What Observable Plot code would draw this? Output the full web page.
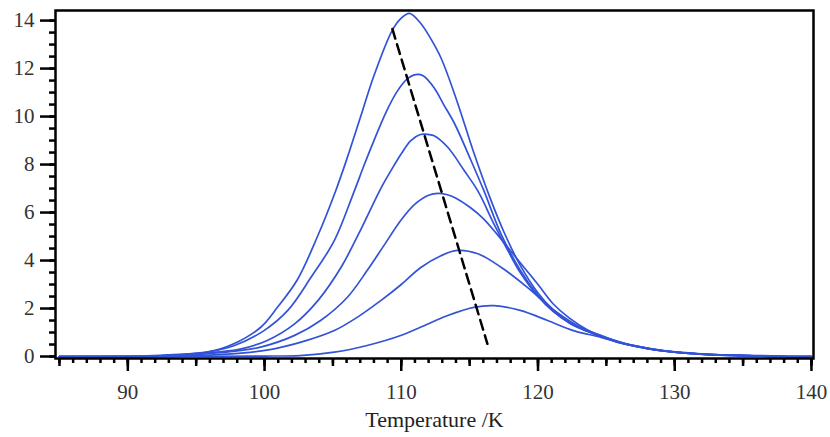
<!DOCTYPE html>
<html>
<head>
<meta charset="utf-8">
<script src="https://cdn.jsdelivr.net/npm/d3@7"></script>
<script src="https://cdn.jsdelivr.net/npm/@observablehq/plot@0.6"></script>
<style>
  html, body { margin: 0; padding: 0; background: #fff; }
</style>
</head>
<body>
<div id="chart"></div>
<script>
// Glow curves: [temperature K, intensity]
const curve1 = [[85,0],[91,0.02],[93,0.07],[95.8,0.18],[97.75,0.53],[99.72,1.22],[100.94,2.05],[102.4,3.2],[103.87,5.0],[105.2,6.9],[106.06,8.3],[107.03,10.0],[108.0,11.7],[109.35,13.6],[110.0,14.1],[110.6,14.3],[111.4,13.9],[112.1,13.3],[112.9,12.45],[114.1,10.6],[115.3,8.5],[116.5,6.6],[117.5,5.2],[118.7,3.8],[120,2.65],[121.1,1.95],[122.3,1.42],[123.6,1.08],[124.6,0.85],[125.8,0.6],[127,0.46],[128.3,0.3],[129.45,0.21],[131,0.13],[132.8,0.08],[135,0.05],[137.7,0.02],[138.5,0],[140,0]];
const curve2 = [[85,0],[92,0.02],[94,0.08],[96,0.2],[97.8,0.46],[99.96,1.08],[101.7,1.92],[103.4,3.3],[105.1,4.83],[106.5,6.8],[107.3,8.0],[108.0,9.0],[108.9,10.2],[109.7,11.05],[110.4,11.55],[111.05,11.75],[111.6,11.7],[112.4,11.2],[113.1,10.5],[113.9,9.7],[115.1,8.17],[116.05,6.9],[117.3,5.1],[118.7,3.6],[120,2.55],[121.1,1.9],[122.3,1.4],[123.6,1.05],[125,0.75],[126.5,0.5],[128,0.33],[130,0.18],[132.5,0.08],[135,0.04],[137.5,0.02],[138.5,0],[140,0]];
const curve3 = [[85,0],[92.5,0.02],[94.5,0.08],[96.5,0.18],[98.3,0.32],[100.2,0.67],[102.2,1.36],[103.9,2.33],[105.6,3.72],[107.0,5.25],[108.5,7.0],[109.3,7.8],[110.0,8.45],[110.7,9.0],[111.4,9.25],[112.0,9.25],[112.4,9.2],[113.4,8.72],[114.6,7.75],[115.6,6.9],[116.8,5.5],[118.0,4.2],[118.7,3.5],[120,2.5],[121.1,1.88],[122.3,1.4],[123.6,1.05],[125,0.75],[126.5,0.5],[128,0.33],[130,0.18],[132.5,0.08],[135,0.04],[138,0],[140,0]];
const curve4 = [[85,0],[93,0.02],[95,0.08],[97.5,0.2],[99.7,0.39],[102.2,0.88],[104.1,1.5],[106.06,2.47],[107.5,3.58],[108.7,4.6],[110,5.7],[111,6.35],[112,6.72],[112.7,6.8],[113.3,6.75],[114,6.6],[115.07,6.2],[116,5.75],[117,5.1],[118,4.4],[119,3.7],[120,3.0],[121.1,2.2],[122.3,1.6],[123.6,1.12],[125,0.78],[126.5,0.52],[128,0.34],[130,0.18],[132.5,0.08],[135,0.04],[138,0],[140,0]];
const curve5 = [[85,0],[94,0.02],[96,0.06],[98.5,0.15],[100.7,0.32],[103.1,0.67],[105.1,1.08],[106.8,1.64],[108.5,2.33],[110,3.0],[111.4,3.7],[112.9,4.2],[114.1,4.42],[115.6,4.28],[117.3,3.72],[119.2,2.89],[120,2.5],[121.2,1.92],[123.1,1.22],[124.6,0.88],[126,0.6],[127.5,0.4],[129.5,0.22],[132,0.1],[135,0.04],[138,0],[140,0]];
const curve6 = [[85,0],[96,0.01],[100,0.02],[102.6,0.04],[105.1,0.18],[107.5,0.46],[109.96,0.875],[111.4,1.22],[113.4,1.71],[115.3,2.05],[116.8,2.12],[118.7,1.92],[120.7,1.5],[122.6,1.08],[124.6,0.8],[126.5,0.5],[128.5,0.3],[130.5,0.17],[133,0.08],[136,0.03],[138,0],[140,0]];
const curves = [curve1, curve2, curve3, curve4, curve5, curve6];
// Dashed peak-shift guide
const guide = [[109.35, 13.65], [116.3, 0.53]];
// Ticks
const xMajor = [90, 100, 110, 120, 130, 140];
const xMid = d3.range(85, 141, 5);
const xMinor = d3.range(85, 141, 1);
const yMajor = [0, 2, 4, 6, 8, 10, 12, 14];
const yMinor = d3.range(0, 14.01, 0.5);
const xLabel = "Temperature /K";

const serif = "Liberation Serif";
const rows = curves.flatMap((c, i) => c.map(([t, v]) => ({t, v, s: i})));

const chart = Plot.plot({
  width: 830,
  height: 437,
  marginLeft: 55,
  marginRight: 17,
  marginTop: 10,
  marginBottom: 79,
  x: {domain: [84.71, 140.15]},
  y: {domain: [-0.083, 14.42]},
  style: {background: "#fff", color: "#333", fontFamily: serif, fontSize: "21px"},
  marks: [
    Plot.axisY({ticks: yMinor, tickSize: 6, strokeWidth: 2.5, stroke: "#000", tickFormat: () => "", label: null}),
    Plot.axisY({ticks: yMajor, tickSize: 15, tickPadding: 6, strokeWidth: 2.5, stroke: "#000", fontSize: 21, fontFamily: serif, label: null}),
    Plot.axisX({ticks: xMinor, tickSize: 5, strokeWidth: 2.5, stroke: "#000", tickFormat: () => "", label: null}),
    Plot.axisX({ticks: xMid, tickSize: 8, strokeWidth: 2.5, stroke: "#000", tickFormat: () => "", label: null}),
    Plot.axisX({ticks: xMajor, tickSize: 13, tickPadding: 13, strokeWidth: 2.5, stroke: "#000", fontSize: 21, fontFamily: serif, label: null}),
    Plot.line(rows, {x: "t", y: "v", z: "s", stroke: "#3252d8", strokeWidth: 1.7, curve: "catmull-rom"}),
    Plot.line(guide, {x: d => d[0], y: d => d[1], stroke: "#000", strokeWidth: 2.5, strokeDasharray: "10,6"}),
    Plot.frame({stroke: "#000", strokeWidth: 2.5}),
    Plot.text([xLabel], {frameAnchor: "bottom", dy: 68, fontSize: 22, fontFamily: serif, fill: "#222"})
  ]
});
document.getElementById("chart").appendChild(chart);
</script>
</body>
</html>
